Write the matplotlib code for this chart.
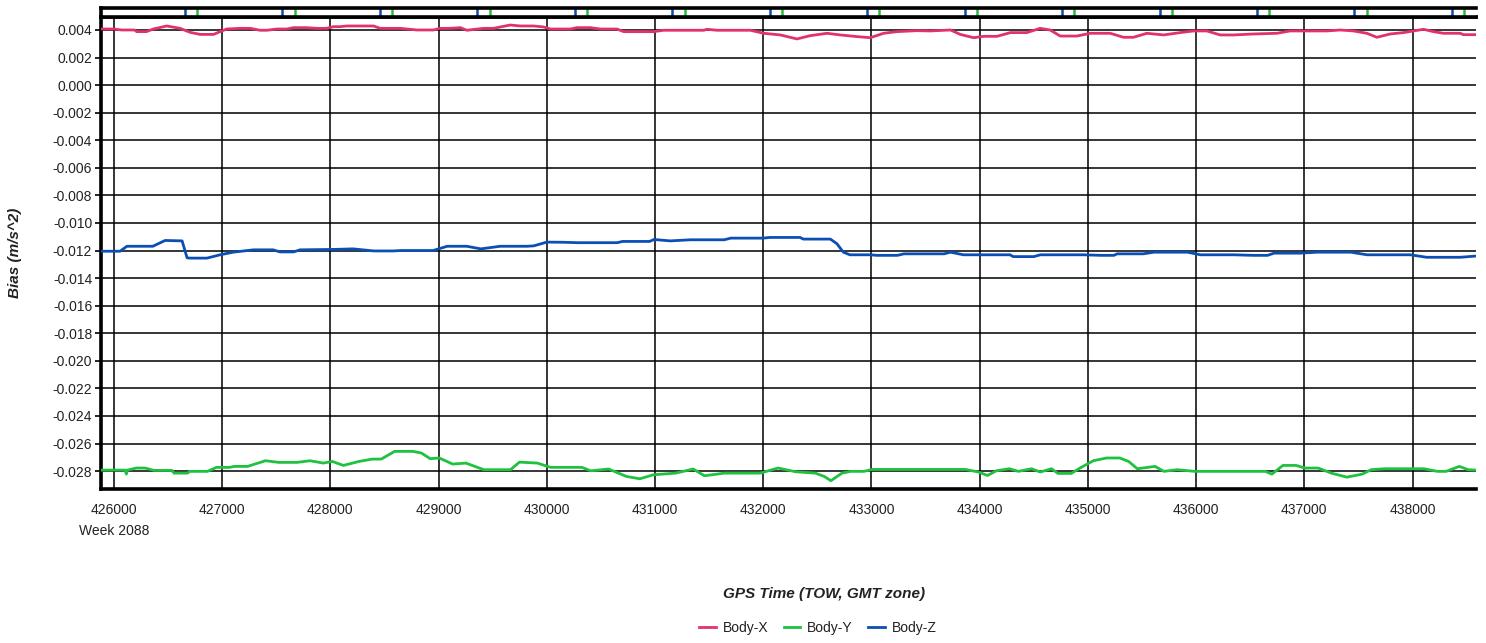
import matplotlib
matplotlib.use("Agg")
import matplotlib.pyplot as plt
from matplotlib.transforms import blended_transform_factory

plt.rcParams['font.family'] = ['Liberation Sans', 'DejaVu Sans']

# ---------------- data ----------------
x_x = [425876, 426000, 426070, 426190, 426210, 426300, 426364, 426488, 426611, 426704, 426796, 426920,
       426982, 427043, 427166, 427259, 427351, 427413, 427506, 427598, 427660, 427783, 427875, 427967,
       428029, 428090, 428152, 428399, 428460, 428645, 428800, 428954, 429015, 429108, 429200, 429262,
       429416, 429508, 429662, 429755, 429878, 429970, 430032, 430217, 430278, 430402, 430494, 430648,
       430710, 430987, 431080, 431450, 431481, 431573, 431881, 432004, 432158, 432312, 432435, 432589,
       432712, 432866, 432989, 433112, 433235, 433420, 433544, 433729, 433821, 433944, 434037, 434160,
       434284, 434435, 434559, 434651, 434744, 434898, 435021, 435206, 435329, 435421, 435545, 435699,
       435853, 435976, 436099, 436222, 436345, 436530, 436746, 436869, 437208, 437331, 437454, 437577,
       437670, 437793, 437916, 438101, 438193, 438285, 438440, 438470, 438586]
body_x = [0.00407, 0.00407, 0.00400, 0.00400, 0.00388, 0.00388, 0.00407, 0.00429, 0.00412, 0.00383, 0.00368, 0.00368,
          0.00388, 0.00407, 0.00412, 0.00412, 0.00398, 0.00398, 0.00407, 0.00407, 0.00417, 0.00417, 0.00412, 0.00412,
          0.00424, 0.00424, 0.00429, 0.00429, 0.00412, 0.00412, 0.00400, 0.00400, 0.00412, 0.00412, 0.00417, 0.00398,
          0.00412, 0.00412, 0.00436, 0.00429, 0.00429, 0.00422, 0.00407, 0.00407, 0.00417, 0.00417, 0.00407, 0.00407,
          0.00388, 0.00388, 0.00398, 0.00398, 0.00405, 0.00398, 0.00398, 0.00376, 0.00364, 0.00335, 0.00359, 0.00376,
          0.00364, 0.00352, 0.00344, 0.00376, 0.00388, 0.00395, 0.00393, 0.00400, 0.00368, 0.00344, 0.00354, 0.00354,
          0.00381, 0.00381, 0.00412, 0.00400, 0.00356, 0.00356, 0.00376, 0.00376, 0.00347, 0.00347, 0.00376, 0.00364,
          0.00381, 0.00393, 0.00393, 0.00364, 0.00364, 0.00371, 0.00376, 0.00393, 0.00393, 0.00400, 0.00393, 0.00376,
          0.00347, 0.00371, 0.00381, 0.00405, 0.00388, 0.00376, 0.00376, 0.00366, 0.00366]

y_x = [425876, 426103, 426115, 426125, 426206, 426288, 426370, 426535, 426556, 426680, 426700, 426865,
       426947, 427070, 427112, 427235, 427400, 427524, 427690, 427812, 427935, 428018, 428120, 428265,
       428388, 428470, 428594, 428760, 428841, 428923, 429006, 429130, 429253, 429418, 429665, 429747,
       429912, 430035, 430324, 430406, 430571, 430736, 430860, 430983, 431189, 431353, 431456, 431641,
       431971, 432136, 432300, 432482, 432564, 432625, 432727, 432808, 432930, 433012, 433868, 433990,
       434072, 434153, 434275, 434357, 434479, 434560, 434663, 434724, 434846, 434927, 435050, 435172,
       435294, 435376, 435457, 435620, 435702, 435824, 435987, 436639, 436700, 436802, 436924, 437006,
       437128, 437250, 437393, 437535, 437617, 437739, 438106, 438228, 438310, 438432, 438513, 438586]
body_y = [-0.02793, -0.02793, -0.02822, -0.02793, -0.02778, -0.02778, -0.02795, -0.02795, -0.02815, -0.02815, -0.02802, -0.02802,
          -0.02773, -0.02773, -0.02766, -0.02766, -0.02725, -0.02737, -0.02737, -0.02725, -0.02742, -0.02730, -0.02759, -0.02730,
          -0.02713, -0.02713, -0.02657, -0.02657, -0.02669, -0.02710, -0.02705, -0.02749, -0.02742, -0.02790, -0.02790, -0.02735,
          -0.02742, -0.02773, -0.02773, -0.02798, -0.02785, -0.02839, -0.02856, -0.02827, -0.02815, -0.02785, -0.02834, -0.02815,
          -0.02815, -0.02778, -0.02805, -0.02815, -0.02839, -0.02870, -0.02815, -0.02802, -0.02802, -0.02788, -0.02788, -0.02807,
          -0.02832, -0.02798, -0.02783, -0.02802, -0.02783, -0.02807, -0.02783, -0.02817, -0.02817, -0.02778, -0.02725, -0.02705,
          -0.02705, -0.02730, -0.02783, -0.02766, -0.02802, -0.02790, -0.02802, -0.02802, -0.02822, -0.02759, -0.02759, -0.02778,
          -0.02778, -0.02815, -0.02844, -0.02822, -0.02790, -0.02783, -0.02783, -0.02802, -0.02802, -0.02766, -0.02790, -0.02793]

z_x = [425876, 426057, 426120, 426360, 426473, 426630, 426676, 426703, 426860, 426981, 427101, 427290,
       427470, 427536, 427660, 427720, 428030, 428210, 428400, 428580, 428650, 428950, 429080, 429260,
       429390, 429570, 429820, 429880, 430000, 430150, 430280, 430650, 430700, 430950, 430990, 431140,
       431330, 431640, 431700, 432000, 432060, 432340, 432370, 432620, 432680, 432740, 432800, 432990,
       433050, 433240, 433300, 433670, 433730, 433850, 434280, 434310, 434500, 434560, 434960, 435120,
       435240, 435270, 435510, 435610, 435920, 436040, 436350, 436530, 436660, 436720, 436960, 437120,
       437430, 437580, 437980, 438130, 438440, 438586]
body_z = [-0.01205, -0.01205, -0.01169, -0.01169, -0.01127, -0.01130, -0.01253, -0.01255, -0.01255, -0.01231, -0.01212, -0.01195,
          -0.01195, -0.01210, -0.01210, -0.01195, -0.01192, -0.01188, -0.01203, -0.01203, -0.01200, -0.01200, -0.01169, -0.01169,
          -0.01188, -0.01169, -0.01169, -0.01166, -0.01139, -0.01140, -0.01143, -0.01143, -0.01134, -0.01134, -0.01120, -0.01130,
          -0.01122, -0.01122, -0.01110, -0.01110, -0.01105, -0.01105, -0.01117, -0.01117, -0.01150, -0.01212, -0.01231, -0.01231,
          -0.01235, -0.01235, -0.01224, -0.01224, -0.01212, -0.01231, -0.01231, -0.01244, -0.01244, -0.01231, -0.01231, -0.01235,
          -0.01235, -0.01224, -0.01224, -0.01212, -0.01212, -0.01231, -0.01231, -0.01235, -0.01235, -0.01219, -0.01219, -0.01212,
          -0.01212, -0.01231, -0.01231, -0.01249, -0.01249, -0.01240]

marks_blue = [426657, 427557, 428458, 429358, 430259, 431159, 432060, 432960, 433861, 434761, 435662,
              436562, 437463, 438363]
marks_green = [426771, 427671, 428572, 429472, 430373, 431273, 432174, 433074, 433975, 434875, 435776,
               436676, 437577, 438477]

x_ticks = [426000, 427000, 428000, 429000, 430000, 431000, 432000, 433000, 434000, 435000, 436000, 437000, 438000]
y_ticks = [0.004, 0.002, 0.000, -0.002, -0.004, -0.006, -0.008, -0.010, -0.012, -0.014, -0.016, -0.018,
           -0.020, -0.022, -0.024, -0.026, -0.028]
week_label = "Week 2088"

RED = '#E2326B'
GREEN = '#1FC23F'
BLUE = '#0B4FB4'
TXT = '#222222'

# ---------------- figure ----------------
W, H = 1486, 643
fig = plt.figure(figsize=(W / 100, H / 100), dpi=100)

L, R = 100.5 / W, 1476 / W
ax = fig.add_axes([L, 1 - 489 / H, R - L, (489 - 17.3) / H])
strip = fig.add_axes([L, 1 - 17.3 / H, R - L, (17.3 - 8) / H])

xmin, xmax = 425876, 438586
ymin, ymax = -0.0293, 0.00492

for yt in y_ticks:
    ax.axhline(yt, color='black', lw=1.1, zorder=1)
for xt in x_ticks:
    ax.axvline(xt, color='black', lw=1.1, zorder=1)

ax.plot(x_x, body_x, color=RED, lw=2.0, zorder=3, label='Body-X')
ax.plot(y_x, body_y, color=GREEN, lw=2.0, zorder=3, label='Body-Y')
ax.plot(z_x, body_z, color=BLUE, lw=2.0, zorder=3, label='Body-Z')

ax.set_xlim(xmin, xmax)
ax.set_ylim(ymin, ymax)
ax.set_xticks(x_ticks)
ax.set_xticklabels([str(v) for v in x_ticks])
ax.set_yticks(y_ticks)
ax.set_yticklabels([f"{v:.3f}" if v != 0 else "0.000" for v in y_ticks])
ax.tick_params(axis='x', length=0, pad=10, labelsize=10, colors=TXT)
ax.tick_params(axis='y', length=4, width=1.2, pad=2, labelsize=10)
for lab in ax.get_yticklabels():
    lab.set_color(TXT)

for s in ['left', 'bottom', 'top']:
    ax.spines[s].set_linewidth(2.6)
    ax.spines[s].set_color('black')
ax.spines['right'].set_visible(False)

trans = blended_transform_factory(ax.transData, ax.transAxes)
ax.text(426000, -0.075, week_label, transform=trans, ha='center', va='top', fontsize=10, color=TXT)

# strip with markers
strip.set_xlim(xmin, xmax)
strip.set_ylim(0, 1)
strip.set_xticks([])
strip.set_yticks([])
for s in ['left', 'top', 'bottom']:
    strip.spines[s].set_linewidth(2.6)
strip.spines['right'].set_visible(False)
for m in marks_blue:
    strip.axvline(m, color=BLUE, lw=1.8, ymin=0.05, ymax=0.95)
for m in marks_green:
    strip.axvline(m, color=GREEN, lw=1.8, ymin=0.05, ymax=0.95)

fig.text(15 / W, 1 - 253 / H, 'Bias (m/s^2)', rotation=90, ha='center', va='center',
         fontsize=11, fontweight='bold', fontstyle='italic', color=TXT)
fig.text(824 / W, 1 - 594 / H, 'GPS Time (TOW, GMT zone)', ha='center', va='center',
         fontsize=11, fontweight='bold', fontstyle='italic', color=TXT)

leg = fig.legend(loc='center', bbox_to_anchor=(818 / W, 1 - 628 / H), ncol=3, frameon=False,
                 fontsize=10, handlelength=1.2, handletextpad=0.5, columnspacing=1.1)
for t in leg.get_texts():
    t.set_color(TXT)

fig.savefig('out.png', dpi=100)
